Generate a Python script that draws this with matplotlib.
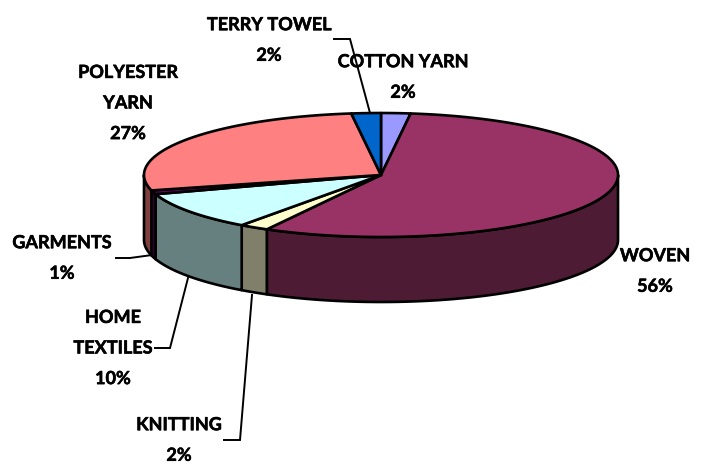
import matplotlib
matplotlib.use("Agg")
import matplotlib.pyplot as plt
import matplotlib.patheffects as pe
import numpy as np

plt.rcParams['font.family'] = ['Lato', 'DejaVu Sans']

categories = ["COTTON YARN", "WOVEN", "KNITTING", "HOME TEXTILES", "GARMENTS", "POLYESTER YARN", "TERRY TOWEL"]
shares = [2, 56, 2, 10, 1, 27, 2]
top_colors = ["#9999FF", "#993366", "#FFFFCC", "#CCFFFF", "#660066", "#FF8080", "#0066CC"]
side_colors = ["#4D4D80", "#4E1B35", "#80806A", "#668080", "#330033", "#804040", "#003366"]

# label text, centre of the text block, leader line
labels = [
    ("TERRY TOWEL\n2%", 269, 40, [(334, 39), (350, 39), (370, 113)]),
    ("COTTON YARN\n2%", 403, 77, None),
    ("POLYESTER\nYARN\n27%", 128, 103, None),
    ("GARMENTS\n1%", 62, 258, [(116, 258), (130, 258), (152, 255)]),
    ("HOME\nTEXTILES\n10%", 113, 348, [(155, 348), (170, 348), (188, 278)]),
    ("KNITTING\n2%", 179, 440, [(224, 440), (240, 440), (252, 295)]),
    ("WOVEN\n56%", 655, 271, None),
]

cx, cy = 381, 175
rx, ry = 237, 62
depth = 65

fig = plt.figure(figsize=(7.04, 4.63), dpi=100)
ax = fig.add_axes([0, 0, 1, 1])
ax.set_xlim(0, 704)
ax.set_ylim(463, 0)
ax.axis("off")


def rim(a0, a1, drop=0):
    # angles run clockwise from 12 o'clock, in degrees
    t = np.radians(np.linspace(a0, a1, max(int(abs(a1 - a0) * 2), 2)))
    return cx + rx * np.sin(t), cy - ry * np.cos(t) + drop


edges = np.concatenate([[0], np.cumsum(shares)]) / sum(shares) * 360

# outer wall, only the part facing the viewer
for i in range(len(shares)):
    a0 = max(edges[i], 90)
    a1 = min(edges[i + 1], 270)
    if a1 <= a0:
        continue
    x, y = rim(a0, a1)
    xb, yb = rim(a1, a0, depth)
    ax.fill(np.r_[x, xb], np.r_[y, yb], fc=side_colors[i], ec="black", lw=1.9, joinstyle="round")

# top face
for i in range(len(shares)):
    x, y = rim(edges[i], edges[i + 1])
    ax.fill(np.r_[cx, x], np.r_[cy, y], fc=top_colors[i], ec="black", lw=1.9, joinstyle="round")

for text, tx, ty, leader in labels:
    if leader:
        ax.plot(*zip(*leader), color="black", lw=1.4, solid_joinstyle="miter")
    ax.text(tx, ty, text, ha="center", va="center", fontsize=13, fontweight="bold",
            color="black", linespacing=1.97, multialignment="center",
            path_effects=[pe.withStroke(linewidth=0.4, foreground="black")])

fig.savefig("out.png", dpi=100)
